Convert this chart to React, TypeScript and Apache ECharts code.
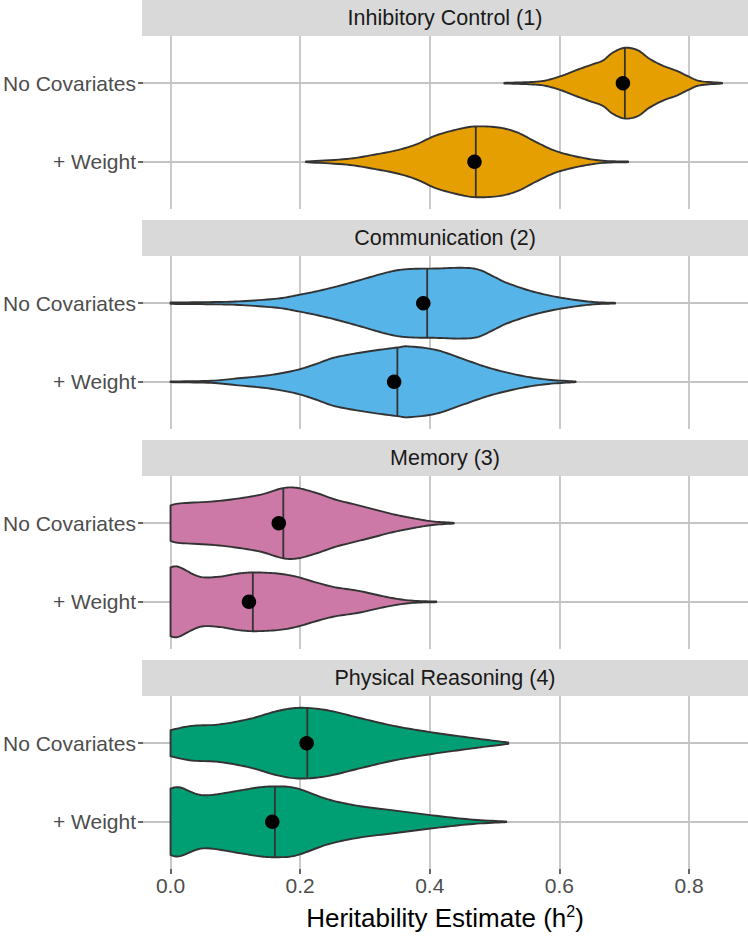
import React, { useEffect, useRef } from "react";
import * as echarts from "echarts";

const panelTitles = ["Inhibitory Control (1)", "Communication (2)", "Memory (3)", "Physical Reasoning (4)"];
const rowLabels = ["No Covariates", "+ Weight"];
const fillColors = ["#E69F00", "#56B4E9", "#CC79A7", "#009E73"];
const xTickValues = [0, 0.2, 0.4, 0.6, 0.8];

// violin outlines: [heritability estimate, relative density (max = 1)]
const icNoCov = [[0.515,0.01],[0.553,0.03],[0.577,0.07],[0.601,0.19],[0.625,0.36],[0.649,0.52],[0.667,0.64],[0.682,0.86],[0.701,1.0],[0.721,0.93],[0.739,0.69],[0.76,0.49],[0.781,0.35],[0.799,0.19],[0.817,0.06],[0.851,0.01]];
const icWeight = [[0.209,0.01],[0.272,0.08],[0.314,0.2],[0.35,0.33],[0.38,0.5],[0.41,0.75],[0.446,0.93],[0.471,1.0],[0.506,0.97],[0.535,0.83],[0.565,0.55],[0.595,0.3],[0.631,0.13],[0.667,0.03],[0.706,0.01]];
const comNoCov = [[0,0.02],[0.06,0.03],[0.105,0.05],[0.165,0.13],[0.194,0.22],[0.224,0.33],[0.254,0.46],[0.29,0.64],[0.326,0.83],[0.35,0.93],[0.374,0.97],[0.41,0.98],[0.45,1.0],[0.475,0.95],[0.5,0.74],[0.518,0.58],[0.553,0.36],[0.589,0.2],[0.625,0.09],[0.655,0.03],[0.686,0.01]];
const comWeight = [[0,0.01],[0.063,0.03],[0.105,0.1],[0.153,0.19],[0.194,0.33],[0.224,0.5],[0.254,0.69],[0.302,0.85],[0.35,0.97],[0.368,1.0],[0.41,0.9],[0.452,0.64],[0.494,0.38],[0.542,0.17],[0.583,0.06],[0.625,0.01]];
const memNoCov = [[0,0.5],[0.015,0.56],[0.075,0.63],[0.135,0.79],[0.171,0.98],[0.194,1.0],[0.224,0.86],[0.254,0.67],[0.284,0.53],[0.314,0.39],[0.344,0.25],[0.374,0.14],[0.404,0.05],[0.437,0.01]];
const memWeight = [[0,0.97],[0.006,1.0],[0.015,0.97],[0.045,0.71],[0.075,0.71],[0.105,0.8],[0.129,0.83],[0.165,0.8],[0.194,0.71],[0.224,0.55],[0.254,0.41],[0.29,0.31],[0.338,0.12],[0.374,0.03],[0.41,0.01]];
const prNoCov = [[0,0.37],[0.033,0.49],[0.075,0.53],[0.123,0.69],[0.165,0.91],[0.2,1.0],[0.242,0.93],[0.29,0.72],[0.344,0.49],[0.398,0.32],[0.452,0.18],[0.494,0.08],[0.521,0.02]];
const prWeight = [[0,0.94],[0.015,0.97],[0.051,0.75],[0.105,0.88],[0.135,0.97],[0.162,1.0],[0.194,0.95],[0.242,0.64],[0.29,0.45],[0.35,0.31],[0.41,0.17],[0.467,0.06],[0.518,0.01]];

const violins = [[icNoCov, icWeight], [comNoCov, comWeight], [memNoCov, memWeight], [prNoCov, prWeight]];
const medians = [[0.701, 0.471], [0.396, 0.35], [0.174, 0.127], [0.211, 0.161]];
const means = [[0.698, 0.469], [0.39, 0.345], [0.167, 0.121], [0.21, 0.157]];

const FONT = "'Liberation Sans', Arial, Helvetica, sans-serif";
const LEFT = 142;
const STRIP_H = 36;
const PANEL_H = 173;
const PITCH = 220;
const HALF = 0.45;

function smoothPts(p: number[][], steps = 10): number[][] {
  const out: number[][] = [];
  for (let i = 0; i < p.length - 1; i++) {
    const p0 = p[Math.max(0, i - 1)], p1 = p[i], p2 = p[i + 1], p3 = p[Math.min(p.length - 1, i + 2)];
    for (let s = 0; s < steps; s++) {
      const t = s / steps, t2 = t * t, t3 = t2 * t;
      out.push([0, 1].map((j) =>
        0.5 * (2 * p1[j] + (-p0[j] + p2[j]) * t + (2 * p0[j] - 5 * p1[j] + 4 * p2[j] - p3[j]) * t2 + (-p0[j] + 3 * p1[j] - 3 * p2[j] + p3[j]) * t3)
      ));
    }
  }
  out.push(p[p.length - 1]);
  return out;
}

export default function App() {
  const ref = useRef<HTMLDivElement>(null);
  useEffect(() => {
    if (!ref.current) return;
    const chart = echarts.init(ref.current, null, { renderer: "svg" });
    const grids: any[] = [];
    const xAxes: any[] = [];
    const yAxes: any[] = [];
    const series: any[] = [];
    const graphics: any[] = [];
    panelTitles.forEach((title, k) => {
      const top = STRIP_H + PITCH * k;
      grids.push({ left: LEFT, right: 0, top, height: PANEL_H });
      const last = k === panelTitles.length - 1;
      xAxes.push({
        type: "value", gridIndex: k, min: -0.0424, max: 0.891,
        axisLine: { show: false, onZero: false },
        axisTick: { show: last, customValues: xTickValues, length: 5, lineStyle: { color: "#333333", width: 1.5 } },
        axisLabel: { show: last, customValues: xTickValues, formatter: (v: number) => v.toFixed(1), color: "#4D4D4D", fontSize: 21, fontFamily: FONT, margin: 6 },
        splitLine: { show: true, lineStyle: { color: "#C4C4C4", width: 1.8 } },
      });
      yAxes.push({
        type: "value", gridIndex: k, min: 0.4, max: 2.6, inverse: true,
        axisLine: { show: false, onZero: false },
        axisTick: { show: true, customValues: [1, 2], length: 5, lineStyle: { color: "#333333", width: 1.5 } },
        axisLabel: { customValues: [1, 2], formatter: (v: number) => rowLabels[Math.round(v) - 1] || "", color: "#4D4D4D", fontSize: 21, fontFamily: FONT, margin: 7 },
        splitLine: { show: true, lineStyle: { color: "#C4C4C4", width: 1.8 } },
      });
      graphics.push({
        type: "rect", shape: { x: LEFT, y: PITCH * k, width: 748 - LEFT, height: STRIP_H },
        style: { fill: "#D9D9D9" }, silent: true,
      });
      graphics.push({
        type: "text", x: (LEFT + 748) / 2, y: PITCH * k + STRIP_H / 2,
        style: { text: title, fill: "#1A1A1A", fontSize: 21.5, fontFamily: FONT, align: "center", verticalAlign: "middle" },
        silent: true,
      });
      series.push({
        type: "custom", xAxisIndex: k, yAxisIndex: k, coordinateSystem: "cartesian2d", clip: false, z: 3,
        data: means[k].map((m, i) => [m, i + 1]),
        renderItem: (params: any, api: any) => {
          const i = params.dataIndex;
          const row = i + 1;
          const prof = violins[k][i];
          const topPx = smoothPts(prof.map(([x, d]) => api.coord([x, row - HALF * d])));
          const botPx = smoothPts(prof.map(([x, d]) => api.coord([x, row + HALF * d])));
          const rowPx = api.coord([0, row])[1];
          const medPx = api.coord([medians[k][i], row])[0];
          let best = topPx[0];
          topPx.forEach((p) => { if (Math.abs(p[0] - medPx) < Math.abs(best[0] - medPx)) best = p; });
          const yTop = best[1];
          const yBot = 2 * rowPx - yTop;
          return {
            type: "group",
            children: [
              { type: "polygon", shape: { points: topPx.concat(botPx.slice().reverse()) }, style: { fill: fillColors[k], stroke: "#333333", lineWidth: 1.9, lineJoin: "round" } },
              { type: "line", shape: { x1: medPx, y1: yTop, x2: medPx, y2: yBot }, style: { stroke: "#333333", lineWidth: 1.8 } },
            ],
          };
        },
      });
      series.push({
        type: "scatter", xAxisIndex: k, yAxisIndex: k, z: 5,
        symbol: "circle", symbolSize: 14.5,
        itemStyle: { color: "#000000", opacity: 1 },
        data: means[k].map((m, i) => [m, i + 1]),
      });
    });
    graphics.push({
      type: "text", x: (LEFT + 748) / 2, y: 918,
      style: {
        text: "Heritability Estimate (h{sup|2})",
        fill: "#000000", fontSize: 26, fontFamily: FONT, align: "center", verticalAlign: "middle",
        rich: { sup: { fontSize: 16, fontFamily: FONT, fill: "#000000", verticalAlign: "top", lineHeight: 30, padding: [0, 0, 10, 0] } },
      },
      silent: true,
    });
    chart.setOption({
      animation: false,
      backgroundColor: "#FFFFFF",
      grid: grids,
      xAxis: xAxes,
      yAxis: yAxes,
      series,
      graphic: graphics,
    });
    return () => chart.dispose();
  }, []);
  return <div ref={ref} style={{ position: "absolute", left: 0, top: 0, width: 748, height: 941 }} />;
}
